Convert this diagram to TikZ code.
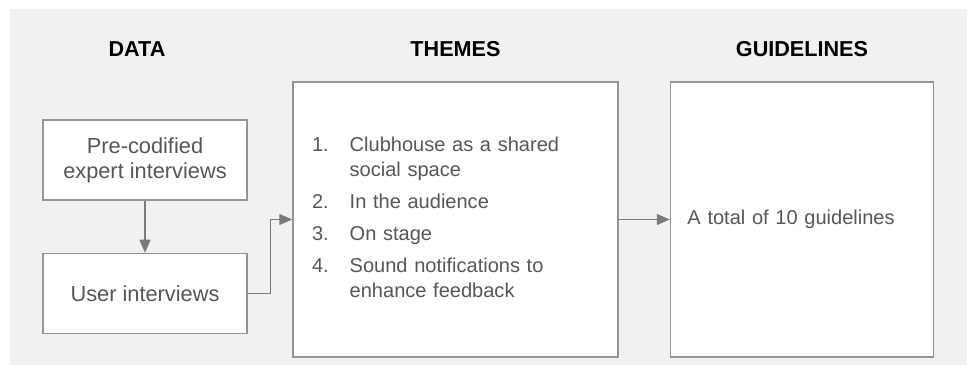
\documentclass[tikz,border=0pt]{standalone}
\usepackage{fontspec}
\setmainfont{Liberation Sans}
\usepackage{tikz}
\usetikzlibrary{arrows.meta}
\usetikzlibrary{positioning}
\definecolor{panel}{HTML}{F1F1F1}
\definecolor{edge}{HTML}{959595}
\definecolor{ink}{HTML}{575757}
\definecolor{wire}{HTML}{7A7A7A}

\begin{document}
\begin{tikzpicture}[>={Triangle[length=0.26cm,width=0.22cm]},node distance=1.04cm,
  box/.style={draw=edge,line width=0.85pt,fill=white,text=ink,font=\fontsize{11.4}{14.2}\selectfont},
  small/.style={box,minimum width=4.08cm,minimum height=1.6cm,align=center,font=\fontsize{12.4}{14.2}\selectfont},
  tall/.style={box,minimum height=5.5cm,align=left},
  head/.style={font=\fontsize{12.3}{14}\selectfont\bfseries,text=black},
  arr/.style={->,draw=wire,line width=0.7pt}]
\useasboundingbox (0,0) rectangle (19.36,7.5);
\fill[panel] (0.2,0.2) rectangle (19.34,7.32);

% data column
\node[small] (expert) at (2.9,4.3) {Pre-codified\\expert interviews};
\node[small] (user) [below=of expert] {User interviews};

% themes and guidelines
\node[tall,text width=5.74cm,inner xsep=0.38cm] (themes) at (9.11,3.11) {%
\begin{tabular}{@{}l@{\hspace{0.42cm}}l@{}}
1. & Clubhouse as a shared\\
   & social space\\[0.15cm]
2. & In the audience\\[0.13cm]
3. & On stage\\[0.15cm]
4. & Sound notifications to\\
   & enhance feedback
\end{tabular}};
\node[tall,text width=4.58cm,inner xsep=0.34cm] (guide) [right=1.02cm of themes] {A total of 10 guidelines};

\node[head] (hdata) at (2.74,6.52) {DATA};
\node[head] (hthemes) at (themes.north |- 0,6.52) {THEMES};
\node[head] (hguide) at (guide.north |- 0,6.52) {GUIDELINES};

\draw[arr] (expert) -- (user);
\draw[arr] (user.east) -- ++(0.46,0) |- (themes.west);
\draw[arr] (themes) -- (guide);

\end{tikzpicture}
\end{document}
